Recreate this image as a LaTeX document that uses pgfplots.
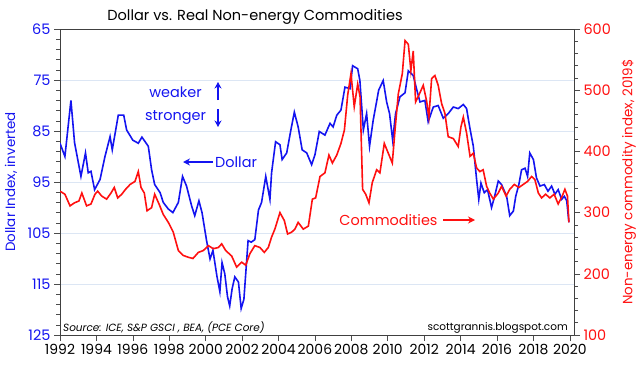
\documentclass[border=0pt]{standalone}
\usepackage{fontspec}
\setmainfont{Poppins}
\usepackage{pgfplots}
\pgfplotsset{compat=1.18}
\usetikzlibrary{arrows.meta}
\definecolor{dblue}{HTML}{1414F0}
\definecolor{cred}{HTML}{FF1010}
\definecolor{gridc}{HTML}{DCE6F4}
\begin{document}
\begin{tikzpicture}[x=1bp,y=1bp]
\useasboundingbox (0,0) rectangle (640,364);
\pgfplotsset{
  base/.style={
    at={(60bp,29bp)}, anchor=south west,
    scale only axis, width=514bp, height=306bp,
    xmin=1992, xmax=2020.23,
    tick align=outside,
    major tick length=6bp, minor tick length=4bp,
    /pgf/number format/assume math mode=true,
    axis line style={black!75, line width=0.8bp},
    every tick/.style={black!70, line width=0.6bp},
  }
}
\begin{axis}[base,
  y dir=reverse, ymin=65, ymax=125,
  ytick={65,75,85,95,105,115,125},
  minor y tick num=4,
  xtick={1992,1994,...,2020},
  minor x tick num=1,
  xticklabel style={font=\fontsize{14}{14}\selectfont, black, /pgf/number format/1000 sep={}},
  x tick label style={/pgf/number format/1000 sep={}},
  yticklabel style={font=\fontsize{14.5}{14.5}\selectfont, text=dblue},
  ymajorgrids, grid style={gridc, line width=0.7bp},
  axis y line*=left, axis x line*=box,
  xtick pos=bottom, ytick pos=left,
]
\addplot[dblue, line width=1.6bp] coordinates {
(1992.00,87.4)(1992.27,90.0)(1992.6,79.0)(1992.8,87.3)(1993.15,93.9)(1993.4,89.3)
(1993.55,93.2)(1993.7,92.9)(1993.9,96.5)(1994.2,94.5)(1994.47,90.0)(1994.75,86.1)
(1994.87,88.7)(1995.2,81.9)(1995.5,81.9)(1995.66,84.8)(1996.0,86.8)(1996.3,87.4)
(1996.5,86.2)(1996.85,88.0)(1997.03,92.6)(1997.2,95.5)(1997.5,97.1)(1997.67,99.0)
(1997.95,100.3)(1998.2,101.0)(1998.5,99.0)(1998.73,93.9)(1998.95,95.8)(1999.23,99.7)
(1999.4,101.6)(1999.63,98.7)(1999.8,101.0)(2000.05,106.5)(2000.24,110.1)(2000.4,108.4)
(2000.62,113.5)(2000.78,116.5)(2000.9,110.8)(2001.05,113.0)(2001.2,117.5)(2001.32,119.3)
(2001.45,116.0)(2001.6,113.6)(2001.8,114.6)(2001.95,119.8)(2002.1,118.0)(2002.22,112.0)
(2002.33,106.5)(2002.5,106.8)(2002.7,106.3)(2002.9,100.5)(2003.07,99.0)(2003.3,93.9)
(2003.53,98.4)(2003.62,93.2)(2003.84,87.1)(2004.08,87.7)(2004.2,90.6)(2004.45,89.3)
(2004.68,84.8)(2004.87,81.3)(2005.08,84.2)(2005.3,88.7)(2005.55,89.3)(2005.82,91.6)
(2006.0,89.7)(2006.24,85.1)(2006.55,85.8)(2006.83,83.5)(2007.0,84.2)(2007.2,81.9)
(2007.43,80.9)(2007.65,76.4)(2007.93,76.7)(2008.07,72.2)(2008.35,72.8)(2008.47,75.1)
(2008.66,84.8)(2008.84,81.6)(2009.0,88.0)(2009.2,82.9)(2009.4,79.0)(2009.5,77.0)
(2009.75,75.1)(2009.94,79.3)(2010.1,81.6)(2010.27,86.8)(2010.43,81.6)(2010.67,78.3)
(2010.95,77.5)(2011.13,73.2)(2011.4,74.1)(2011.6,77.0)(2011.77,79.3)(2012.04,79.0)
(2012.22,83.2)(2012.5,80.3)(2012.77,80.0)(2013.05,82.5)(2013.32,81.6)(2013.6,80.3)
(2013.87,80.6)(2014.15,79.8)(2014.33,80.6)(2014.5,84.2)(2014.7,88.0)(2014.88,94.5)
(2015.0,98.4)(2015.12,95.2)(2015.3,97.1)(2015.48,96.5)(2015.7,100.0)(2015.85,98.1)
(2016.07,94.8)(2016.25,95.5)(2016.53,97.8)(2016.7,101.6)(2016.9,100.7)(2017.03,97.8)
(2017.2,95.5)(2017.35,92.6)(2017.54,92.3)(2017.68,93.9)(2017.8,89.3)(2018.0,90.6)
(2018.17,94.2)(2018.36,95.8)(2018.6,95.5)(2018.8,96.8)(2019.0,95.8)(2019.18,97.4)
(2019.36,96.5)(2019.55,98.4)(2019.7,97.8)(2019.83,98.7)(2019.95,102.9)
};
\end{axis}
\begin{axis}[base,
  ymin=100, ymax=600,
  ytick={100,200,...,600},
  minor y tick num=4,
  axis y line*=right, axis x line=none,
  yticklabel style={font=\fontsize{14.5}{14.5}\selectfont, text=cred},
]
\addplot[cred, line width=1.6bp] coordinates {
(1992.0,335)(1992.27,330)(1992.55,311)(1992.8,316)(1993.04,319)(1993.2,332)
(1993.46,311)(1993.7,314)(1993.92,330)(1994.07,335)(1994.29,327)(1994.56,322)
(1994.8,332)(1994.98,341)(1995.17,324)(1995.39,330)(1995.6,338)(1995.85,346)
(1996.12,351)(1996.3,367)(1996.45,341)(1996.63,332)(1996.78,303)(1997.03,308)
(1997.2,330)(1997.44,314)(1997.67,297)(1997.95,284)(1998.22,268)(1998.5,238)
(1998.77,230)(1999.05,227)(1999.3,225)(1999.6,235)(1999.87,238)(2000.15,246)
(2000.42,241)(2000.7,243)(2000.88,249)(2001.1,238)(2001.43,229)(2001.7,211)
(2001.98,219)(2002.2,214)(2002.43,233)(2002.7,246)(2002.98,243)(2003.22,235)
(2003.44,243)(2003.62,260)(2003.8,273)(2004.08,300)(2004.32,287)(2004.5,265)
(2004.72,268)(2004.9,273)(2005.08,284)(2005.36,273)(2005.64,278)(2005.86,322)
(2006.04,324)(2006.28,359)(2006.55,365)(2006.77,394)(2006.96,381)(2007.2,394)
(2007.43,413)(2007.62,435)(2007.8,492)(2007.98,527)(2008.16,473)(2008.35,510)
(2008.48,489)(2008.62,338)(2008.79,330)(2008.97,316)(2009.15,349)(2009.39,370)
(2009.57,365)(2009.81,413)(2010.03,397)(2010.25,381)(2010.4,435)(2010.58,494)
(2010.8,527)(2010.95,581)(2011.13,575)(2011.27,532)(2011.4,564)(2011.53,481)
(2011.71,492)(2011.95,508)(2012.13,483)(2012.26,456)(2012.41,519)(2012.59,524)
(2012.77,508)(2012.96,478)(2013.14,462)(2013.32,424)(2013.6,421)(2013.87,408)
(2014.02,440)(2014.15,456)(2014.33,430)(2014.52,392)(2014.7,397)(2014.88,373)
(2015.06,367)(2015.24,370)(2015.43,343)(2015.6,332)(2015.8,322)(2016.07,332)
(2016.25,343)(2016.5,327)(2016.7,338)(2016.95,346)(2017.2,341)(2017.44,346)
(2017.68,351)(2017.9,359)(2018.08,354)(2018.27,332)(2018.45,324)(2018.67,330)
(2018.9,324)(2019.14,330)(2019.36,314)(2019.58,327)(2019.73,338)(2019.87,327)
(2019.95,284)
};
\end{axis}
% title and labels
\node[font=\fontsize{14.6}{15}\selectfont, black] at (255,347) {Dollar vs. Real Non-energy Commodities};
\node[font=\fontsize{13.5}{14}\selectfont, text=dblue, rotate=90] at (11,182) {Dollar Index, inverted};
\node[font=\fontsize{13.5}{14}\selectfont, text=cred, rotate=90] at (629,182) {Non-energy commodity index, 2019\$};
% annotations
\node[font=\fontsize{14.5}{15}\selectfont, text=dblue] at (175.5,272) {weaker};
\draw[dblue, line width=1.8bp, -{Stealth[length=6.5bp,width=7bp]}] (218,264) -- (218,282);
\node[font=\fontsize{14.5}{15}\selectfont, text=dblue] at (175.5,247) {stronger};
\draw[dblue, line width=1.8bp, -{Stealth[length=6.5bp,width=7bp]}] (218,255) -- (218,237);
\draw[dblue, line width=1.6bp, -{Stealth[length=7bp,width=7bp]}] (213,202) -- (183,202);
\node[font=\fontsize{14.5}{15}\selectfont, text=dblue, anchor=west, inner sep=0pt] at (215,202) {Dollar};
\node[font=\fontsize{14.5}{15}\selectfont, text=cred] at (388.5,144) {Commodities};
\draw[cred, line width=1.6bp, -{Stealth[length=7bp,width=7bp]}] (443,144) -- (475,144);
\node[font=\itshape\fontsize{10.5}{11}\selectfont, black, anchor=west, inner sep=0pt] at (63,36) {Source: ICE, S\&P GSCI , BEA, (PCE Core)};
\node[font=\fontsize{10.5}{11}\selectfont, black, anchor=east, inner sep=0pt] at (568,36) {scottgrannis.blogspot.com};
\end{tikzpicture}
\end{document}
